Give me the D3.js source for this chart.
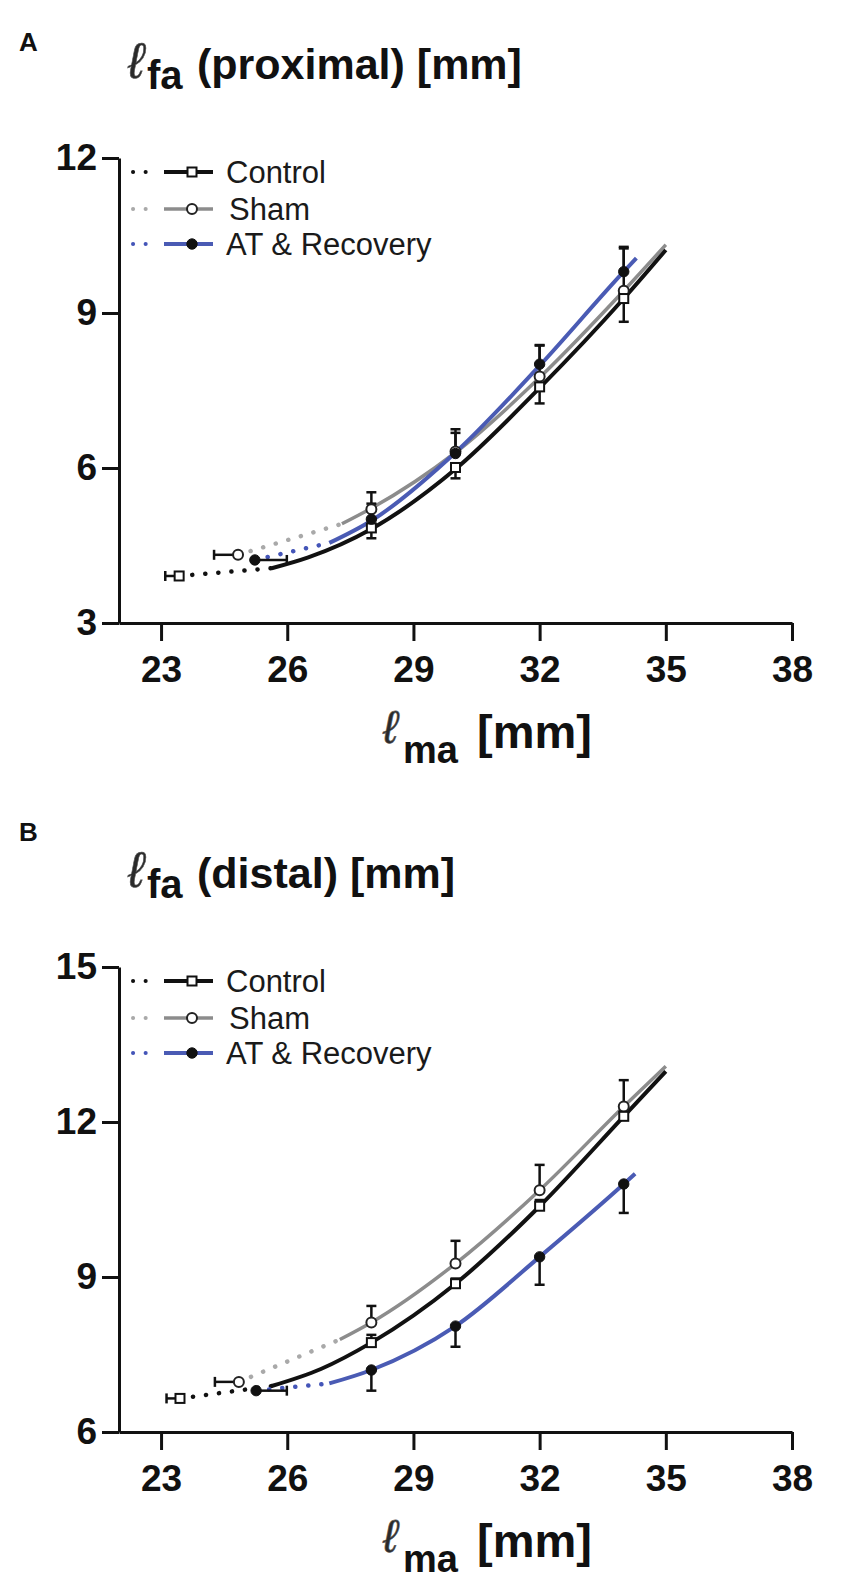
<!DOCTYPE html>
<html><head><meta charset="utf-8">
<script src="https://cdn.jsdelivr.net/npm/d3@7/dist/d3.min.js"></script>
<style>
html,body{margin:0;padding:0;background:#fff;}
svg{display:block;}
text{font-family:"Liberation Sans",Arial,sans-serif;}
</style></head>
<body>
<svg id="chart" width="842" height="1592"></svg>
<script>
// ---------- DATA ----------
const seriesNames = ["Control", "Sham", "AT & Recovery"];
const xTicks = [23, 26, 29, 32, 35, 38];
const yTicksA = [3, 6, 9, 12];
const yTicksB = [6, 9, 12, 15];
const xMeasured = [28, 30, 32, 34];

// Panel A (proximal)
const startXA = [23.43, 24.83, 25.23];
const startYA = [3.91, 4.32, 4.22];
const startXErrA = [-0.33, -0.57, 0.76];      // sign = direction of the bar
const meanA_control = [4.84, 6.01, 7.57, 9.28];
const meanA_sham    = [5.20, 6.32, 7.77, 9.43];
const meanA_at      = [5.01, 6.28, 8.01, 9.80];
const semA_control  = [-0.20, -0.21, -0.32, -0.45]; // negative = below
const semA_sham     = [0.33, 0.43, 0.60, 0.82];
const semA_at       = [0.30, 0.40, 0.37, 0.48];
const fitA_control = [[25.63,4.06],[26.5,4.27],[28,4.82],[30,5.98],[32,7.55],[34,9.28],[35,10.22]];
const fitA_sham    = [[27.3,4.92],[28,5.22],[30,6.30],[32,7.75],[34,9.43],[35,10.32]];
const fitA_at      = [[27.0,4.55],[28,4.98],[30,6.30],[32,7.98],[34,9.80],[34.3,10.06]];

// Panel B (distal)
const startXB = [23.45, 24.85, 25.26];
const startYB = [6.65, 6.97, 6.80];
const startXErrB = [-0.32, -0.57, 0.73];
const meanB_control = [7.73, 8.87, 10.37, 12.11];
const meanB_sham    = [8.12, 9.26, 10.68, 12.30];
const meanB_at      = [7.20, 8.05, 9.39, 10.80];
const semB_control  = [0.15, 0.10, 0.12, 0.10];
const semB_sham     = [0.32, 0.44, 0.49, 0.51];
const semB_at       = [-0.40, -0.40, -0.54, -0.56];
const fitB_control = [[25.63,6.89],[26.8,7.22],[28,7.73],[30,8.87],[32,10.37],[34,12.11],[35,12.98]];
const fitB_sham    = [[27.25,7.79],[28,8.12],[30,9.26],[32,10.68],[34,12.30],[35,13.08]];
const fitB_at      = [[27.0,6.94],[28,7.20],[30,8.05],[32,9.39],[34,10.80],[34.27,11.0]];

// ---------- STYLE ----------
const lineColors = ["#111111", "#8c8c8c", "#4a5bb4"];
const dotColors  = ["#111111", "#a9a9a9", "#4455b8"];
const markers = ["square", "circle", "filled"];

const svg = d3.select("#chart");

function drawMarker(g, type, cx, cy) {
  if (type === "square") {
    g.append("rect").attr("x", cx-4.5).attr("y", cy-4.5).attr("width", 9).attr("height", 9)
      .attr("fill", "#fff").attr("stroke", "#111").attr("stroke-width", 2);
  } else if (type === "circle") {
    g.append("circle").attr("cx", cx).attr("cy", cy).attr("r", 5)
      .attr("fill", "#fff").attr("stroke", "#222").attr("stroke-width", 2);
  } else {
    g.append("circle").attr("cx", cx).attr("cy", cy).attr("r", 5.2)
      .attr("fill", "#111").attr("stroke", "#111").attr("stroke-width", 1);
  }
}

function ell(g, xPos, yPos, size) {
  g.append("text").attr("x", xPos).attr("y", yPos)
    .attr("font-family", "'DejaVu Serif', serif").attr("font-style", "italic")
    .attr("font-size", size).attr("fill", "#2a2a2a")
    .attr("stroke", "#555").attr("stroke-width", 0.6).text("\u2113");
}

function panel(cfg) {
  const o = cfg.offset;
  const x = d3.scaleLinear().domain([22, 38]).range([119, 792]);
  const y = d3.scaleLinear().domain(cfg.yDomain).range([623 + o, 158 + o]);
  const g = svg.append("g");

  // panel letter
  g.append("text").attr("x", 19).attr("y", cfg.letterY).attr("font-size", 26)
    .attr("font-weight", "bold").attr("fill", "#111").text(cfg.letter);

  // title
  ell(g, 128, 78 + o, 50);
  g.append("text").attr("x", 147).attr("y", 89 + o).attr("font-size", 40)
    .attr("font-weight", "bold").attr("fill", "#111").text("fa");
  g.append("text").attr("x", 197).attr("y", 79 + o).attr("font-size", 43)
    .attr("font-weight", "bold").attr("fill", "#111").text(cfg.title);

  // axes
  const xAxis = d3.axisBottom(x).tickValues(xTicks).tickSize(18).tickSizeOuter(0).tickPadding(15)
    .tickFormat(d3.format("d"));
  const yAxis = d3.axisLeft(y).tickValues(cfg.yTicks).tickSize(17).tickSizeOuter(0).tickPadding(5)
    .tickFormat(d3.format("d"));
  const gx = g.append("g").attr("transform", `translate(0,${623 + o})`).call(xAxis);
  const gy = g.append("g").attr("transform", `translate(119,0)`).call(yAxis);
  [gx, gy].forEach(a => {
    a.select(".domain").attr("stroke", "#111").attr("stroke-width", 3);
    a.selectAll(".tick line").attr("stroke", "#111").attr("stroke-width", 3);
    a.selectAll(".tick text").attr("font-size", 37).attr("font-weight", "bold")
      .attr("fill", "#111").attr("font-family", "'Liberation Sans', Arial, sans-serif");
  });

  // x axis title
  ell(g, 383, 743 + o, 46);
  g.append("text").attr("x", 403).attr("y", 763 + o).attr("font-size", 38)
    .attr("font-weight", "bold").attr("fill", "#111").text("ma");
  g.append("text").attr("x", 477).attr("y", 748 + o).attr("font-size", 47)
    .attr("font-weight", "bold").attr("fill", "#111").text("[mm]");

  const line = d3.line().x(d => x(d[0])).y(d => y(d[1])).curve(d3.curveMonotoneX);

  // dotted extrapolation segments
  cfg.fits.forEach((fit, i) => {
    g.append("path").datum([[cfg.startX[i], cfg.startY[i]], fit[0]])
      .attr("d", d3.line().x(d => x(d[0])).y(d => y(d[1])))
      .attr("fill", "none").attr("stroke", dotColors[i]).attr("stroke-width", 4.5)
      .attr("stroke-linecap", "round").attr("stroke-dasharray", "0.1 13");
  });
  // fitted solid curves
  const drawOrder = [1, 0, 2];
  drawOrder.forEach(i => {
    g.append("path").datum(cfg.fits[i]).attr("d", line)
      .attr("fill", "none").attr("stroke", lineColors[i]).attr("stroke-width", i === 1 ? 3.5 : 4)
      .attr("stroke-linecap", "butt");
  });

  // error bars + markers
  const capW = 5;
  drawOrder.forEach(i => {
    const eg = g.append("g");
    const sx = x(cfg.startX[i]), sy = y(cfg.startY[i]);
    const ex = x(cfg.startX[i] + cfg.startXErr[i]);
    eg.append("line").attr("x1", sx).attr("x2", ex).attr("y1", sy).attr("y2", sy)
      .attr("stroke", "#111").attr("stroke-width", 2.5);
    eg.append("line").attr("x1", ex).attr("x2", ex).attr("y1", sy - capW).attr("y2", sy + capW)
      .attr("stroke", "#111").attr("stroke-width", 2.5);
    xMeasured.forEach((xv, k) => {
      const cx = x(xv), cy = y(cfg.means[i][k]);
      const ey = y(cfg.means[i][k] + cfg.sems[i][k]);
      eg.append("line").attr("x1", cx).attr("x2", cx).attr("y1", cy).attr("y2", ey)
        .attr("stroke", "#111").attr("stroke-width", 2.5);
      eg.append("line").attr("x1", cx - capW).attr("x2", cx + capW).attr("y1", ey).attr("y2", ey)
        .attr("stroke", "#111").attr("stroke-width", 2.5);
    });
  });
  drawOrder.forEach(i => {
    const mg = g.append("g");
    drawMarker(mg, markers[i], x(cfg.startX[i]), y(cfg.startY[i]));
    xMeasured.forEach((xv, k) => drawMarker(mg, markers[i], x(xv), y(cfg.means[i][k])));
  });

  // legend
  const rows = [172, 209, 244];
  seriesNames.forEach((name, i) => {
    const ry = rows[i] + o;
    const lg = g.append("g");
    lg.append("line").attr("x1", 133).attr("x2", 158).attr("y1", ry).attr("y2", ry)
      .attr("stroke", dotColors[i]).attr("stroke-width", 4).attr("stroke-linecap", "round")
      .attr("stroke-dasharray", "0.1 12.5");
    lg.append("line").attr("x1", 164).attr("x2", 213).attr("y1", ry).attr("y2", ry)
      .attr("stroke", lineColors[i]).attr("stroke-width", i === 1 ? 3.5 : 4);
    drawMarker(lg, markers[i], 192, ry);
    lg.append("text").attr("x", i === 1 ? 229 : 226).attr("y", ry + 11).attr("font-size", 31)
      .attr("fill", "#1a1a1a").text(name);
  });
}

panel({
  offset: 0, letter: "A", letterY: 51, title: "(proximal) [mm]",
  yDomain: [3, 12], yTicks: yTicksA,
  startX: startXA, startY: startYA, startXErr: startXErrA,
  means: [meanA_control, meanA_sham, meanA_at],
  sems: [semA_control, semA_sham, semA_at],
  fits: [fitA_control, fitA_sham, fitA_at]
});
panel({
  offset: 809, letter: "B", letterY: 841, title: "(distal) [mm]",
  yDomain: [6, 15], yTicks: yTicksB,
  startX: startXB, startY: startYB, startXErr: startXErrB,
  means: [meanB_control, meanB_sham, meanB_at],
  sems: [semB_control, semB_sham, semB_at],
  fits: [fitB_control, fitB_sham, fitB_at]
});
</script>
</body></html>
